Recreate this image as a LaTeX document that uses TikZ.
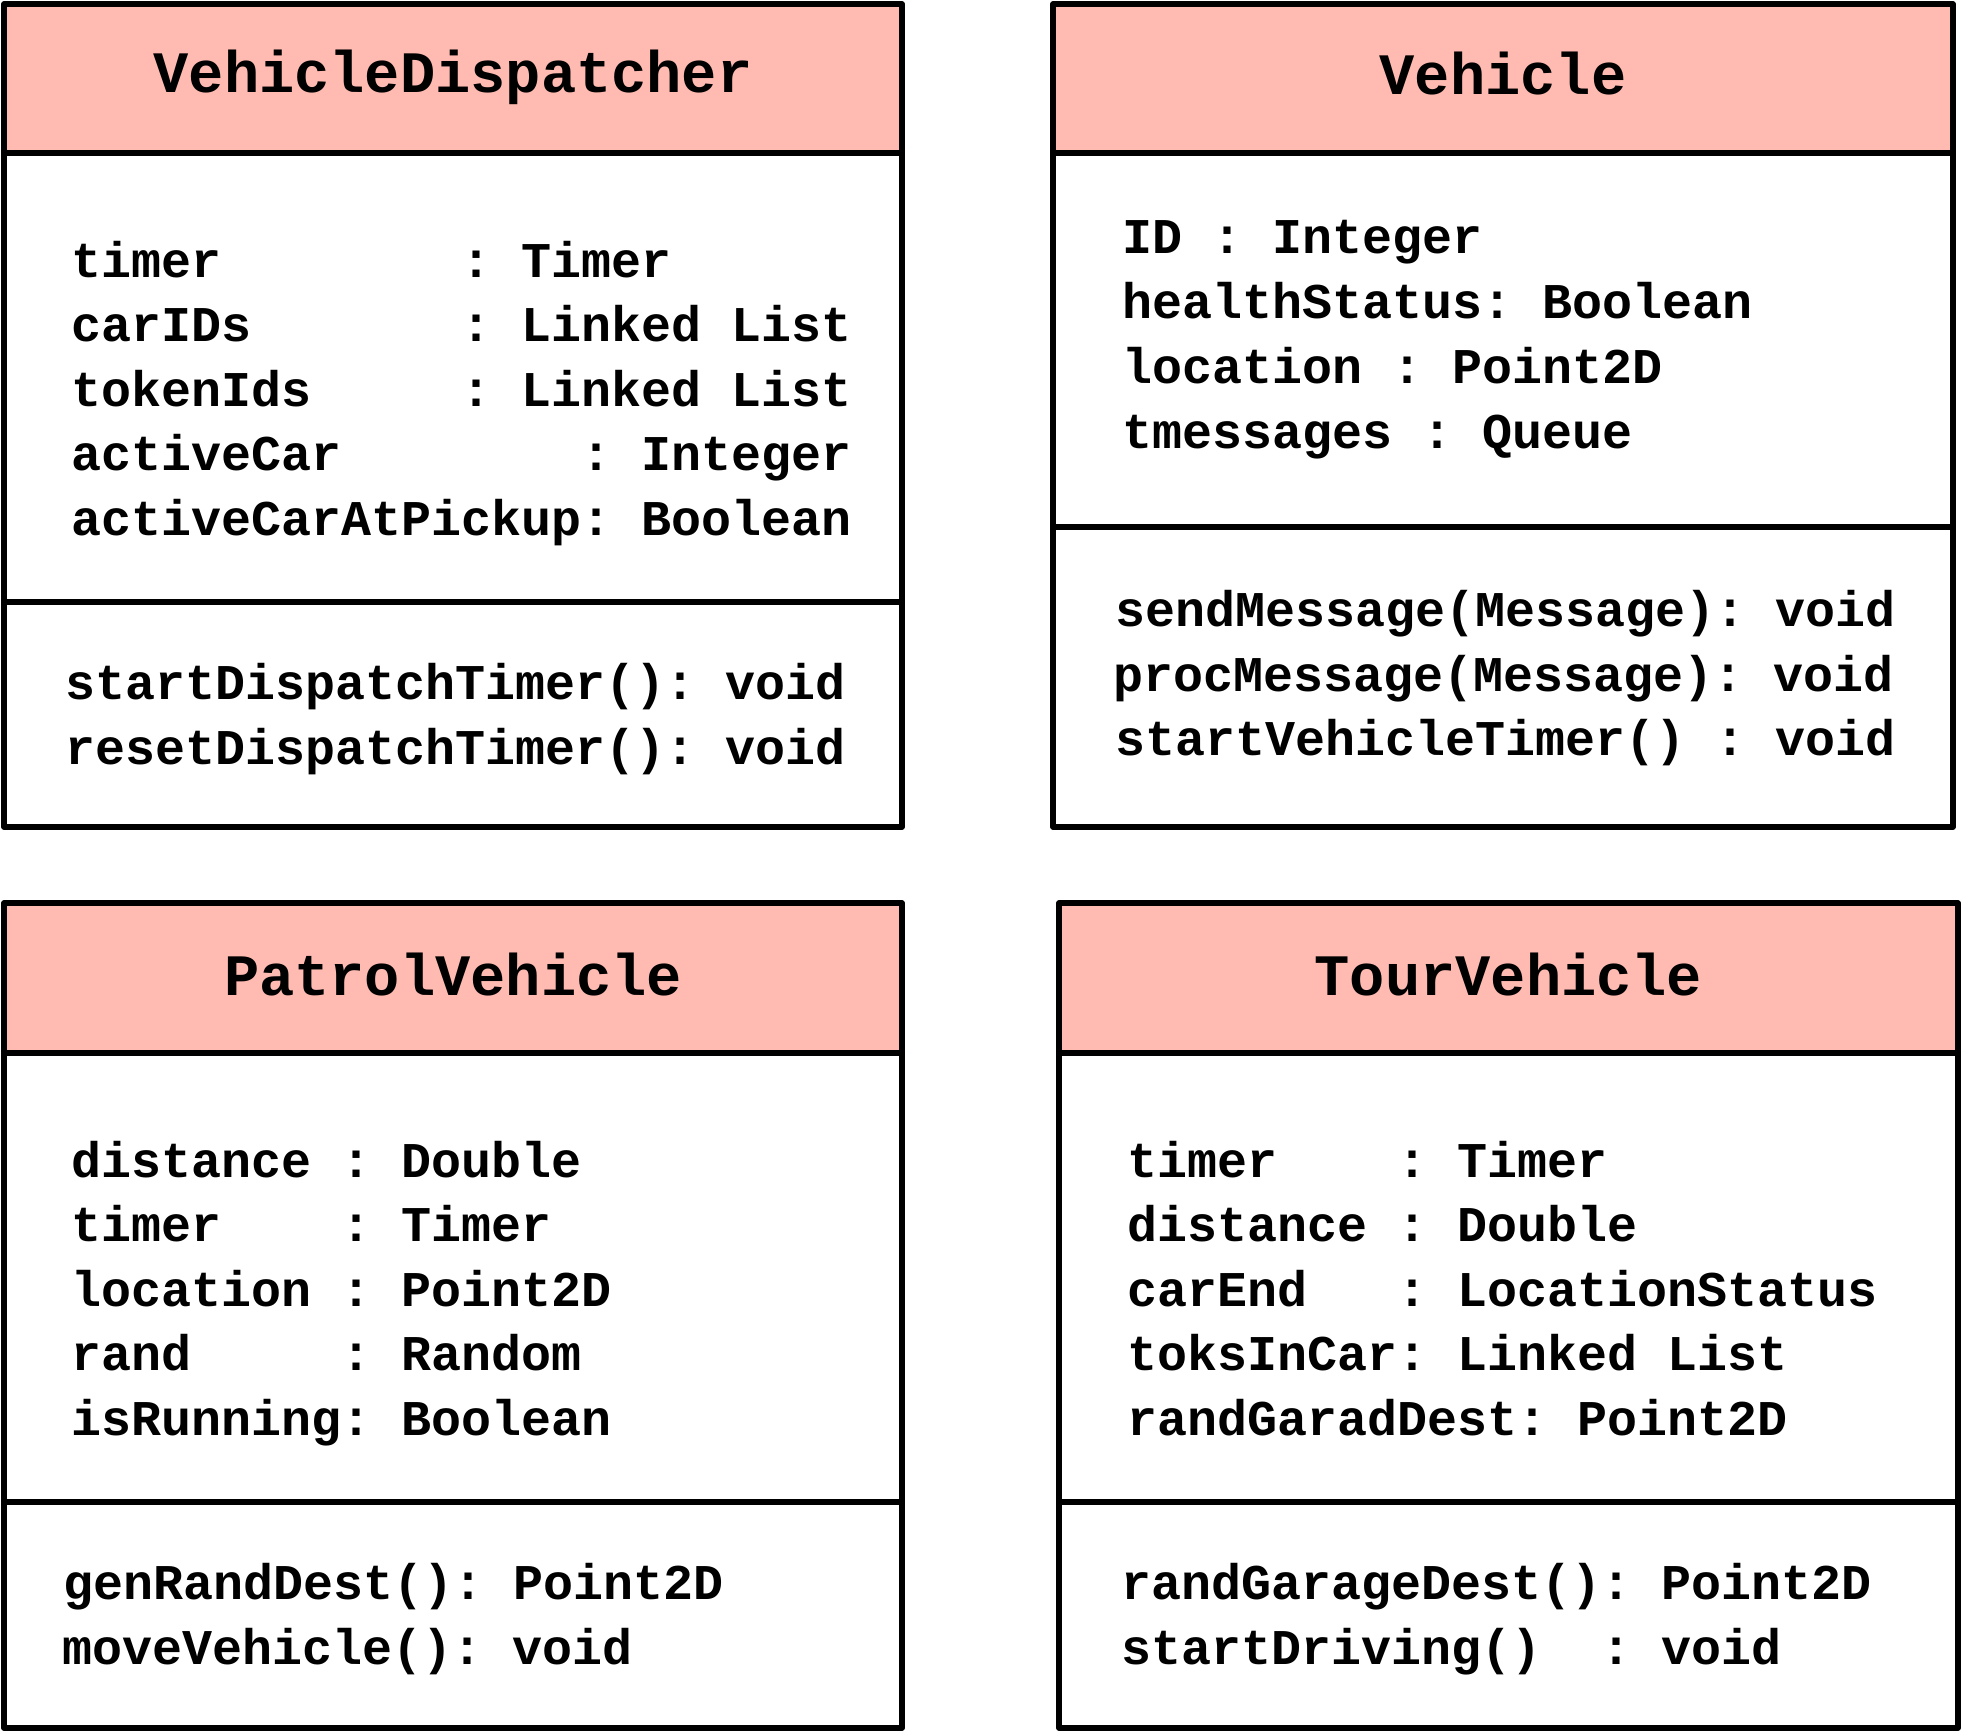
\documentclass[tikz,border=0pt]{standalone}
\usepackage{fontspec}
\newfontfamily\codefont{Liberation Mono}
\definecolor{hdrfill}{RGB}{255,187,178}
\tikzset{
  box/.style={draw=black, line width=5.5pt, line join=round},
  hdr/.style={fill=hdrfill},
  title/.style={anchor=base, inner sep=0pt, font=\codefont\bfseries\fontsize{58.7}{60}\selectfont},
  line/.style={anchor=base west, inner sep=0pt, font=\codefont\bfseries\fontsize{50}{60}\selectfont}
}
\begin{document}
\begin{tikzpicture}[x=1pt,y=-1pt]
\useasboundingbox (0,0) rectangle (1962,1731);

% ---------- VehicleDispatcher ----------
\fill[hdr] (4,4) rectangle (902,153);
\draw[box] (4,4) rectangle (902,827);
\draw[box] (4,153) -- (902,153);
\draw[box] (4,602) -- (902,602);
\node[title] (vdT) at (453,93) {VehicleDispatcher};
\node[line] (vdA1) at (71,277)   {timer~~~~~~~~:~Timer};
\node[line] (vdA2) at (71,341.5) {carIDs~~~~~~~:~Linked~List};
\node[line] (vdA3) at (71,406)   {tokenIds~~~~~:~Linked~List};
\node[line] (vdA4) at (71,470.5) {activeCar~~~~~~~~:~Integer};
\node[line] (vdA5) at (71,535)   {activeCarAtPickup:~Boolean};
\node[line] (vdM1) at (65,699)   {startDispatchTimer():~void};
\node[line] (vdM2) at (65,764)   {resetDispatchTimer():~void};

% ---------- Vehicle ----------
\fill[hdr] (1053,4) rectangle (1953,153);
\draw[box] (1053,4) rectangle (1953,827);
\draw[box] (1053,153) -- (1953,153);
\draw[box] (1053,527) -- (1953,527);
\node[title] (vT) at (1503,95) {Vehicle};
\node[line] (vA1) at (1122,253)   {ID~:~Integer};
\node[line] (vA2) at (1122,318)   {healthStatus:~Boolean};
\node[line] (vA3) at (1122,383)   {location~:~Point2D};
\node[line] (vA4) at (1122,448.5) {tmessages~:~Queue};
\node[line] (vM1) at (1115,626)   {sendMessage(Message):~void};
\node[line] (vM2) at (1113,691)   {procMessage(Message):~void};
\node[line] (vM3) at (1115,755.5) {startVehicleTimer()~:~void};

% ---------- PatrolVehicle ----------
\fill[hdr] (4,903) rectangle (902,1053);
\draw[box] (4,903) rectangle (902,1728);
\draw[box] (4,1053) -- (902,1053);
\draw[box] (4,1502) -- (902,1502);
\node[title] (pvT) at (453,995) {PatrolVehicle};
\node[line] (pvA1) at (71,1177)   {distance~:~Double};
\node[line] (pvA2) at (71,1241.5) {timer~~~~:~Timer};
\node[line] (pvA3) at (71,1306)   {location~:~Point2D};
\node[line] (pvA4) at (71,1370.5) {rand~~~~~:~Random};
\node[line] (pvA5) at (71,1435)   {isRunning:~Boolean};
\node[line] (pvM1) at (63,1599.5) {genRandDest():~Point2D};
\node[line] (pvM2) at (62,1664)   {moveVehicle():~void};

% ---------- TourVehicle ----------
\fill[hdr] (1059,903) rectangle (1958,1053);
\draw[box] (1059,903) rectangle (1958,1728);
\draw[box] (1059,1053) -- (1958,1053);
\draw[box] (1059,1502) -- (1958,1502);
\node[title] (tvT) at (1508.5,995) {TourVehicle};
\node[line] (tvA1) at (1127,1177)   {timer~~~~:~Timer};
\node[line] (tvA2) at (1127,1241.5) {distance~:~Double};
\node[line] (tvA3) at (1127,1306)   {carEnd~~~:~LocationStatus};
\node[line] (tvA4) at (1127,1370.5) {toksInCar:~Linked~List};
\node[line] (tvA5) at (1127,1435)   {randGaradDest:~Point2D};
\node[line] (tvM1) at (1121,1599.5) {randGarageDest():~Point2D};
\node[line] (tvM2) at (1121,1664)   {startDriving()~~:~void};
\end{tikzpicture}
\end{document}
